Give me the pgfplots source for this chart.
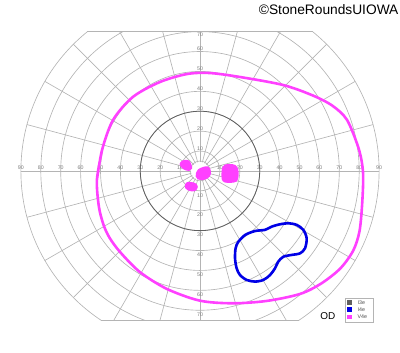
\documentclass[border=0pt]{standalone}
\usepackage{pgfplots}
\pgfplotsset{compat=1.18}
\usepackage{fontspec}
\setmainfont{Liberation Sans}
\definecolor{vmag}{RGB}{255,64,255}
\definecolor{iblue}{RGB}{0,0,230}
\definecolor{gridc}{RGB}{180,180,180}
\definecolor{ring}{RGB}{95,95,95}
\definecolor{lblc}{RGB}{125,125,125}
\tikzset{lbl/.style={font=\fontsize{5.3}{6}\selectfont,text=lblc,inner sep=0pt}}
\begin{document}
\begin{tikzpicture}
\begin{axis}[x=1.99bp,y=1.99bp,hide axis,clip=false,xmin=-91,xmax=91,ymin=-75,ymax=70]
\path (axis cs:-100.5,-91.0) rectangle (axis cs:100.5,85.9);
\begin{scope}
\clip (axis cs:-92,-75) rectangle (axis cs:92,70);
\pgfplotsinvokeforeach{5,10,20,30,40,50,60,70,80,90}{\draw[gridc, line width=0.65bp] (axis cs:0,0) circle[radius=#1];}
\clip (axis cs:0,0) circle[radius=90];
\pgfplotsinvokeforeach{0,15,...,345}{\draw[gridc, line width=0.65bp] (axis cs:{4.5*cos(#1)},{4.5*sin(#1)}) -- (axis cs:{95*cos(#1)},{95*sin(#1)});}
\end{scope}
\draw[gridc, line width=0.65bp] (axis cs:-56.57,70) -- (axis cs:56.57,70);
\draw[gridc, line width=0.65bp] (axis cs:-49.75,-75) -- (axis cs:49.75,-75);
\draw[ring, line width=0.8bp] (axis cs:0,0) circle[radius=30];
\pgfplotsinvokeforeach{10,20,...,90}{\node[lbl] at (axis cs:-#1,1.4) {#1}; \node[lbl] at (axis cs:#1,1.4) {#1};}
\pgfplotsinvokeforeach{10,20,...,60}{\node[lbl] at (axis cs:0,{#1+1.3}) {#1}; \node[lbl] at (axis cs:0,{-#1-2.2}) {#1};}
\node[lbl] at (axis cs:0,68.6) {70};
\node[lbl] at (axis cs:0,-72.3) {70};
% V4e isopter
\addplot[vmag, line width=2.6bp, smooth] coordinates {
(-51.8,-4.5) (-49.2,10.6) (-43.7,25.6) (-33.7,37.2) (-20.1,44.7) (-6.5,48.7) (5.0,49.2)
(20.1,47.2) (41.7,43.2) (56.5,38.0) (66.5,32.8) (73.9,25.6) (79.8,11.0) (81.9,-0.5)
(81.6,-14.6) (80.2,-30.0) (77.0,-40.0) (70.5,-49.0) (61.0,-56.5) (50.3,-61.8) (33.7,-65.3) (16.6,-66.5)
(0,-65.2) (-16.6,-59.3) (-30.2,-50.8) (-40.2,-40.7) (-45.5,-33.5) (-48.5,-27) (-50.8,-18)
(-51.8,-4.5) (-49.2,10.6)};
% I4e isopter
\addplot[iblue, line width=2.6bp, smooth] coordinates {
(19.3,-35.5) (22.6,-32.2) (27.6,-30.2) (32.7,-29.6) (36.0,-28.0) (40.2,-26.8) (44.4,-26.3)
(48.6,-27.1) (51.9,-29.6) (53.6,-33.8) (52.8,-38.8) (50.3,-41.4) (46.1,-42.2) (41.9,-43.1)
(39.3,-45.6) (37.7,-48.9) (35.2,-52.3) (31.8,-54.8) (27.6,-55.6) (23.5,-54.8) (20.1,-52.3)
(18.4,-48.9) (17.6,-43.9) (17.9,-38.8) (19.3,-35.5) (22.6,-32.2)};
% V4e scotomas
\addplot[draw=none, fill=vmag, smooth] coordinates {
(-10.3,3.5) (-9.3,5.0) (-7.3,5.6) (-5.4,5.2) (-4.3,3.2) (-4.0,1.2) (-5.2,0.1) (-7.2,0.3) (-9.2,1.5) (-10.3,3.5) (-9.3,5.0)};
\addplot[draw=none, fill=vmag, smooth] coordinates {
(-2.0,-1.0) (-1.0,0.8) (1.5,2.0) (3.8,2.3) (5.2,1.0) (5.5,-1.5) (4.2,-3.5) (1.5,-4.6) (-1.2,-4.2) (-2.2,-2.8) (-2.0,-1.0) (-1.0,0.8)};
\addplot[draw=none, fill=vmag, smooth] coordinates {
(11.2,1.8) (12.5,3.2) (15,3.5) (17.8,3.0) (19.2,1.0) (19.4,-2.5) (18.5,-5.3) (15.5,-6.0) (12.5,-5.8) (11.0,-4.5) (10.8,-1.0) (11.2,1.8) (12.5,3.2)};
\addplot[draw=none, fill=vmag, smooth] coordinates {
(-7.6,-7.0) (-6.5,-5.6) (-4.2,-5.6) (-2.0,-6.3) (-1.1,-8.0) (-2.0,-9.8) (-4.0,-10.3) (-6.2,-9.7) (-7.5,-8.6) (-7.6,-7.0) (-6.5,-5.6)};
% legend
\draw[gridc, line width=0.5bp, fill=white] (axis cs:72.9,-63.8) rectangle (axis cs:86.9,-75.9);
\fill[ring] (axis cs:73.7,-65.0) rectangle (axis cs:76.5,-67.5);
\fill[iblue] (axis cs:73.7,-68.3) rectangle (axis cs:76.5,-70.9);
\fill[vmag] (axis cs:73.7,-72.2) rectangle (axis cs:76.5,-74.6);
\node[lbl, anchor=west, text=black!70] at (axis cs:79.1,-66.3) {I3e};
\node[lbl, anchor=west, text=black!70] at (axis cs:79.1,-69.6) {I4e};
\node[lbl, anchor=west, text=black!70] at (axis cs:79.1,-73.4) {V4e};
\node[font=\fontsize{10}{12}\selectfont, inner sep=0pt] at (axis cs:64.3,-72.9) {OD};
\node[font=\fontsize{13.8}{16}\selectfont, inner sep=0pt, anchor=east] at (axis cs:99.8,80.9) {©StoneRoundsUIOWA};
\end{axis}
\end{tikzpicture}
\end{document}
